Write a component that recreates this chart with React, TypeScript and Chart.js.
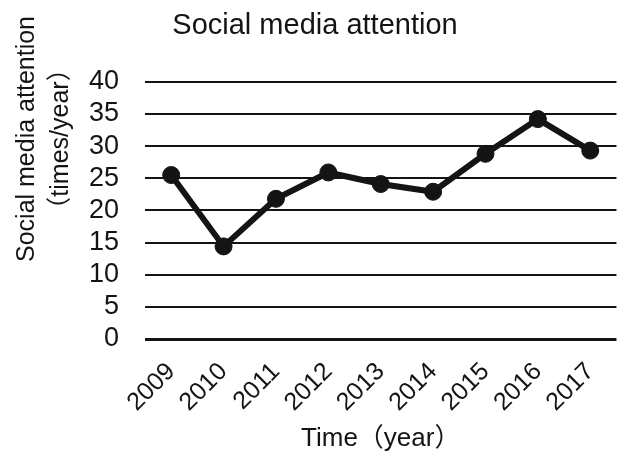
import React, { useEffect, useRef } from "react";
import { Chart, registerables } from "chart.js";

Chart.register(...registerables);

const years = ["2009", "2010", "2011", "2012", "2013", "2014", "2015", "2016", "2017"];
const attention = [25.5, 14.4, 21.8, 25.9, 24.1, 22.9, 28.8, 34.2, 29.3];
const yMin = 0;
const yMax = 40;
const yStep = 5;
const chartTitle = "Social media attention";
const yTitleLines = ["Social media attention", "（times/year）"];
const xTitle = "Time（year）";

const FAMILY = "'Liberation Sans', Arial, 'Noto Sans CJK SC', sans-serif";
const INK = "#141414";

const yTitlePlugin = {
  id: "yTitleLines",
  afterDraw(chart: any) {
    const ctx = chart.ctx;
    ctx.save();
    ctx.font = `25px ${FAMILY}`;
    ctx.fillStyle = INK;
    ctx.textAlign = "center";
    ctx.textBaseline = "middle";
    yTitleLines.forEach((line, i) => {
      ctx.save();
      ctx.translate(27 + i * 34, 139);
      ctx.rotate(-Math.PI / 2);
      ctx.fillText(line, 0, 0);
      ctx.restore();
    });
    ctx.restore();
  },
};

export default function App() {
  const canvasRef = useRef<HTMLCanvasElement | null>(null);

  useEffect(() => {
    if (!canvasRef.current) return;
    const chart = new Chart(canvasRef.current, {
      type: "line",
      data: {
        labels: years,
        datasets: [
          {
            data: attention,
            borderColor: INK,
            backgroundColor: INK,
            borderWidth: 6,
            pointRadius: 8.5,
            pointBorderWidth: 1,
            pointBackgroundColor: INK,
            pointBorderColor: INK,
            tension: 0,
            fill: false,
          },
        ],
      },
      options: {
        animation: false,
        responsive: true,
        maintainAspectRatio: false,
        layout: { padding: 0 },
        plugins: {
          legend: { display: false },
          tooltip: { enabled: false },
          title: {
            display: true,
            text: chartTitle,
            color: INK,
            font: { family: FAMILY, size: 29, weight: "normal", lineHeight: 1.2 },
            padding: { top: 9, bottom: 38 },
          },
        },
        scales: {
          x: {
            offset: true,
            grid: { display: false, drawTicks: false },
            border: { display: false },
            ticks: {
              color: INK,
              font: { family: FAMILY, size: 25 },
              minRotation: 45,
              maxRotation: 45,
              autoSkip: false,
              padding: 18,
            },
            title: {
              display: true,
              text: xTitle,
              color: INK,
              font: { family: FAMILY, size: 26 },
              padding: { top: 0, bottom: 0 },
            },
            afterFit: (s: any) => {
              s.height = 115;
            },
          },
          y: {
            min: yMin,
            max: yMax,
            grid: {
              color: INK,
              lineWidth: (c: any) => (c.tick && c.tick.value === 0 ? 3 : 2),
              drawTicks: false,
            },
            border: { display: false },
            ticks: {
              stepSize: yStep,
              autoSkip: false,
              color: INK,
              font: { family: FAMILY, size: 27, lineHeight: 1 },
              padding: 26,
            },
            afterFit: (s: any) => {
              s.width = 145;
            },
          },
        },
      },
      plugins: [yTitlePlugin],
    });
    return () => chart.destroy();
  }, []);

  return (
    <div style={{ position: "fixed", left: 0, top: 0, width: 630, height: 454 }}>
      <canvas ref={canvasRef} />
    </div>
  );
}
